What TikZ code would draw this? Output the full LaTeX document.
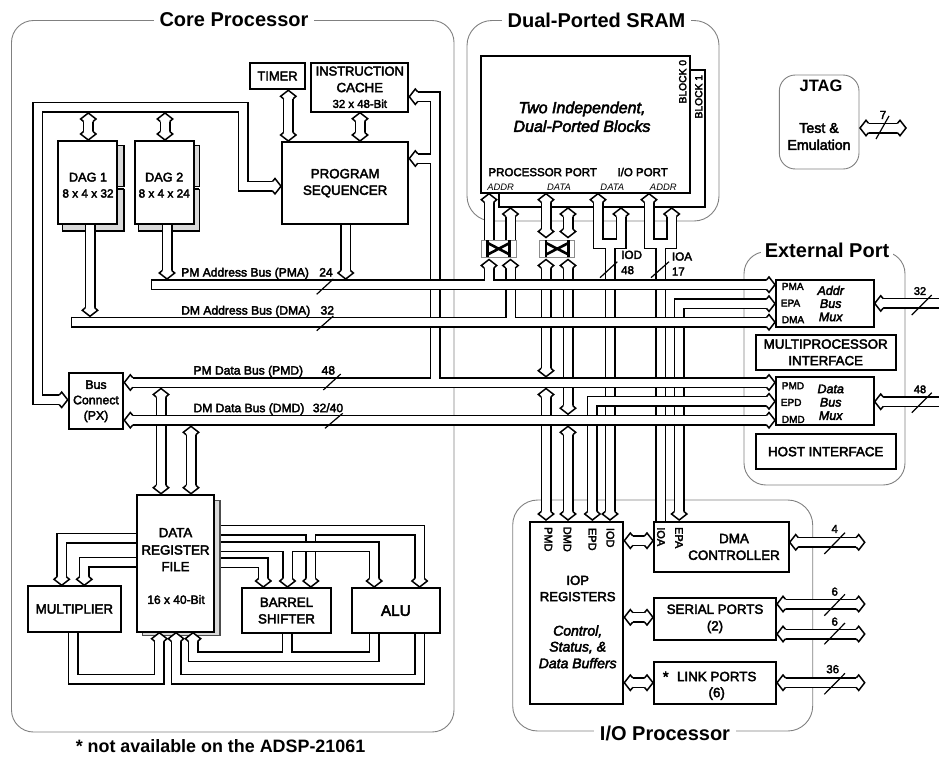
\documentclass[tikz,border=0pt]{standalone}
\usepackage{fontspec}
\setmainfont{Liberation Sans}[FakeBold=3,BoldFeatures={FakeBold=0},ItalicFeatures={FakeBold=3}]
\newfontfamily\plainf{Liberation Sans}
\usetikzlibrary{calc}
\pgfdeclarelayer{back}
\pgfdeclarelayer{front}
\pgfsetlayers{back,main,front}
\pgfdeclarearrow{
  name=BH,
  setup code={
    \pgfarrowssettipend{0pt}
    \pgfarrowssetlineend{-9pt}
    \pgfarrowssetvisualbackend{-9pt}
    \pgfarrowssetbackend{-9.5pt}
  },
  drawing code={
    \pgfsetdash{}{0pt}\pgfsetlinewidth{1.5pt}\pgfsetmiterjoin\pgfsetbuttcap
    \pgfsetfillcolor{white}
    \pgfpathmoveto{\pgfqpoint{-9.5pt}{4.75pt}}
    \pgfpathlineto{\pgfqpoint{-7pt}{7.7pt}}
    \pgfpathlineto{\pgfqpoint{-1pt}{0pt}}
    \pgfpathlineto{\pgfqpoint{-7pt}{-7.7pt}}
    \pgfpathlineto{\pgfqpoint{-9.5pt}{-4.75pt}}
    \pgfusepathqfill
    \pgfpathmoveto{\pgfqpoint{-9.5pt}{4.75pt}}
    \pgfpathlineto{\pgfqpoint{-7pt}{7.7pt}}
    \pgfpathlineto{\pgfqpoint{-1pt}{0pt}}
    \pgfpathlineto{\pgfqpoint{-7pt}{-7.7pt}}
    \pgfpathlineto{\pgfqpoint{-9.5pt}{-4.75pt}}
    \pgfusepathqstroke
  }
}
\tikzset{
  ftx/.style 2 args={font=\fontsize{#1pt}{#2pt}\selectfont},
  bus/.style={draw=black,line width=1.5pt,double=white,double distance=8pt},
  box/.style={draw=black,fill=white,line width=2pt,inner sep=0pt,outer sep=0pt,align=center,ftx={13.3}{16.6}},
  frame/.style={draw=black!50,fill=none,line width=.9pt,rounded corners=22pt,inner sep=0pt,outer sep=0pt},
  title/.style={fill=white,inner xsep=6pt,inner ysep=1pt,font=\fontsize{20}{24}\selectfont\bfseries},
  lab/.style={inner sep=0pt,anchor=mid,yshift=-1.2pt},
  labw/.style={inner sep=0pt,anchor=mid west,yshift=-1.2pt},
  rot/.style={inner sep=0pt,anchor=center},
  tick/.style={draw=black,line width=1.2pt},
  shade/.style={draw=black,fill=black!15,line width=1.5pt},
  xgray/.style={draw=black!45,fill=white,line width=.8pt,inner sep=0pt,outer sep=0pt},
  xbar/.style={draw=black,line width=2.6pt},
}
\newcommand{\bx}[7][]{%
  \pgfmathsetmacro\cxx{(#3+#5)/2}\pgfmathsetmacro\cyy{(#4+#6)/2}%
  \pgfmathsetmacro\wwx{abs(#5-#3)}\pgfmathsetmacro\hhx{abs(#6-#4)}%
  \node[box,minimum width=\wwx pt,minimum height=\hhx pt,#1] (#2) at (\cxx,\cyy) {#7};}
\newcommand{\tj}[2]{\draw[line width=8pt,white] #1 -- #2;}
\begin{document}
\begin{tikzpicture}[x=1pt,y=-1pt]
\useasboundingbox (0,0) rectangle (939,756);

% ---- frames and titles
\begin{pgfonlayer}{back}
\bx[frame]{fcore}{11.5}{20.5}{454}{732}{}
\bx[frame,rounded corners=25pt]{fsram}{467}{20.5}{719}{221}{}
\bx[frame,rounded corners=16pt]{fjtag}{779.3}{75}{859}{169}{}
\bx[frame]{fext}{744}{251.7}{905}{485}{}
\bx[frame,rounded corners=25pt]{fio}{512.7}{500}{812.7}{731}{}
\node[title] (tcore) at (234,20) {Core Processor};
\node[title] (tsram) at (596.5,20) {Dual-Ported SRAM};
\node[title,inner xsep=4pt] (text) at (827,250) {External Port};
\node[title] (tio) at (665,733) {I/O Processor};
\node[inner sep=0pt,font=\fontsize{17.9}{20}\selectfont\bfseries] (fnote) at (220.5,746.5) {* not available on the ADSP-21061};
\end{pgfonlayer}

% ---- blocks (on the front layer)
\begin{pgfonlayer}{front}
\bx[ftx={12.9}{15}]{timer}{249.7}{62.7}{305.3}{89.3}{TIMER}
\bx{cache}{311.3}{62.7}{408.3}{111.7}{}
\bx{seq}{282}{142}{408.3}{224.3}{PROGRAM\\SEQUENCER}
\bx{dag1}{58}{141}{117.3}{224.3}{}
\bx{dag2}{134.7}{141}{193.7}{224.3}{}
\bx[ftx={12.3}{15.4}]{px}{68.7}{373.3}{123.3}{429.3}{Bus\\Connect\\(PX)}
\bx{drf}{136.7}{494.7}{214}{631.7}{}
\bx{mult}{28}{586.3}{120.7}{631.7}{MULTIPLIER}
\bx{shift}{242}{588}{331}{633.3}{BARREL\\SHIFTER}
\bx[ftx={15.3}{18}]{alu}{352}{588}{439.7}{633.3}{ALU}
\bx{blk0}{480.7}{56}{689.7}{192.7}{}
\bx{amux}{776}{280}{873.7}{327}{}
\bx{mpi}{755.7}{335}{895.7}{369.7}{MULTIPROCESSOR\\INTERFACE}
\bx{dmux}{776}{377.3}{873.7}{425}{}
\bx{host}{755.7}{434.3}{895.7}{469}{HOST INTERFACE}
\bx{iop}{530}{521.7}{623.3}{703.7}{}
\bx{dmac}{654}{521.7}{788.7}{572}{}
\bx{serial}{654}{598}{776}{639.7}{SERIAL PORTS\\(2)}
\bx{link}{654}{662.3}{776}{703.7}{}
\bx[xgray]{xa}{481}{240}{516.7}{257.3}{}
\bx[xgray]{xb}{539.3}{240}{574.3}{257.3}{}
\draw[xbar] (487.7,240) -- (487.7,257.3) (509.7,240) -- (509.7,257.3);
\draw[xbar] (487.7,243) -- (509.7,254.5) (487.7,254.5) -- (509.7,243);
\draw[xbar] (546,240) -- (546,257.3) (568.5,240) -- (568.5,257.3);
\draw[xbar] (546,243) -- (568.5,254.5) (546,254.5) -- (568.5,243);
% labels
\node[lab,ftx={12.9}{15}] (l1) at (359.8,71.7) {INSTRUCTION};
\node[lab,ftx={13.3}{15}] (l2) at (359.8,88.3) {CACHE};
\node[lab,ftx={11.4}{14}] (l3) at (359.8,104) {32 x 48-Bit};
\node[lab,ftx={12.7}{15}] (l4) at (88,177.7) {DAG 1};
\node[lab,ftx={11.8}{15}] (l5) at (88,193.7) {8 x 4 x 32};
\node[lab,ftx={12.7}{15}] (l6) at (164.2,177.7) {DAG 2};
\node[lab,ftx={11.8}{15}] (l7) at (164.2,193.7) {8 x 4 x 24};
\node[lab,ftx={13.3}{15}] (l8) at (175.5,533.3) {DATA};
\node[lab,ftx={13.3}{15}] (l9) at (175.5,550.7) {REGISTER};
\node[lab,ftx={13.3}{15}] (l10) at (175.5,567.3) {FILE};
\node[lab,ftx={12}{15}] (l11) at (176,600) {16 x 40-Bit};
\node[labw,ftx={12.1}{15}] (l12) at (181,272.7) {PM Address Bus (PMA)};
\node[lab,ftx={12.1}{15}] (l13) at (326,272.7) {24};
\node[labw,ftx={12.1}{15}] (l14) at (181,310.7) {DM Address Bus (DMA)};
\node[lab,ftx={12.1}{15}] (l15) at (327.3,310.7) {32};
\node[labw,ftx={12.1}{15}] (l16) at (193.3,370.7) {PM Data Bus (PMD)};
\node[lab,ftx={12.1}{15}] (l17) at (328.3,370.7) {48};
\node[labw,ftx={12.1}{15}] (l18) at (193.3,408.3) {DM Data Bus (DMD)};
\node[lab,ftx={12.1}{15}] (l19) at (328,408.3) {32/40};
\node[rot,rotate=90,ftx={10.3}{12}] (b0) at (682.7,81.7) {BLOCK 0};
\node[rot,rotate=90,ftx={10.3}{12}] (b1) at (698.7,96.7) {BLOCK 1};
\node[lab,ftx={16}{18}] (s1) at (582,109.3) {\itshape Two Independent,};
\node[lab,ftx={16}{18}] (s2) at (582,128) {\itshape Dual-Ported Blocks};
\node[labw,ftx={11.5}{14}] (s3) at (488.3,172.3) {PROCESSOR PORT};
\node[labw,ftx={11.5}{14}] (s4) at (617.3,172.3) {I/O PORT};
\node[lab,font=\plainf\fontsize{9.4}{11}\selectfont\itshape] (s5) at (500.7,186.7) {ADDR};
\node[lab,font=\plainf\fontsize{9.4}{11}\selectfont\itshape] (s6) at (559,186.7) {DATA};
\node[lab,font=\plainf\fontsize{9.4}{11}\selectfont\itshape] (s7) at (612.3,186.7) {DATA};
\node[lab,font=\plainf\fontsize{9.4}{11}\selectfont\itshape] (s8) at (663.3,186.7) {ADDR};
\node[lab,font=\fontsize{16.5}{18}\selectfont\bfseries] (j1) at (821,88) {JTAG};
\node[lab,ftx={14.2}{16}] (j2) at (819,129) {Test \&};
\node[lab,ftx={14.2}{16}] (j3) at (819,146) {Emulation};
\node[lab,ftx={11.5}{14}] (j4) at (883,115) {7};
\node[labw,ftx={11.7}{14}] (i1) at (621,255) {IOD};
\node[labw,ftx={11.5}{14}] (i2) at (621,270.3) {48};
\node[labw,ftx={11.7}{14}] (i3) at (671.7,256.7) {IOA};
\node[labw,ftx={11.5}{14}] (i4) at (671.7,271.7) {17};
\node[labw,ftx={10}{12}] (m1) at (781.7,286) {PMA};
\node[labw,ftx={10}{12}] (m2) at (780.7,302.7) {EPA};
\node[labw,ftx={10}{12}] (m3) at (781.7,319.3) {DMA};
\node[lab,ftx={12.5}{14}] (m4) at (830.7,291) {\itshape Addr};
\node[lab,ftx={12.5}{14}] (m5) at (830.7,304) {\itshape Bus};
\node[lab,ftx={12.5}{14}] (m6) at (830.7,317.3) {\itshape Mux};
\node[labw,ftx={10}{12}] (n1) at (781.7,385.3) {PMD};
\node[labw,ftx={10}{12}] (n2) at (780.7,402) {EPD};
\node[labw,ftx={10}{12}] (n3) at (781.7,419) {DMD};
\node[lab,ftx={12.5}{14}] (n4) at (830.7,389.3) {\itshape Data};
\node[lab,ftx={12.5}{14}] (n5) at (830.7,402.7) {\itshape Bus};
\node[lab,ftx={12.5}{14}] (n6) at (830.7,416) {\itshape Mux};
\node[lab,ftx={11}{13}] (e1) at (920,291) {32};
\node[lab,ftx={11}{13}] (e2) at (920,389.3) {48};
\node[rot,rotate=-90,ftx={11}{13}] (p1) at (548.3,539.3) {PMD};
\node[rot,rotate=-90,ftx={11}{13}] (p2) at (567.3,539.3) {DMD};
\node[rot,rotate=-90,ftx={11}{13}] (p3) at (592.3,539.3) {EPD};
\node[rot,rotate=-90,ftx={11}{13}] (p4) at (610.3,537.7) {IOD};
\node[rot,rotate=-90,ftx={11}{13}] (p5) at (661,536.7) {IOA};
\node[rot,rotate=-90,ftx={11}{13}] (p6) at (679,537.7) {EPA};
\node[lab,ftx={13.1}{15}] (q1) at (577.7,581) {IOP};
\node[lab,ftx={13.1}{15}] (q2) at (577.7,597.3) {REGISTERS};
\node[lab,ftx={14}{16}] (q3) at (577.7,631.7) {\itshape Control,};
\node[lab,ftx={14}{16}] (q4) at (577.7,647.7) {\itshape Status, \&};
\node[lab,ftx={14}{16}] (q5) at (577.7,664.3) {\itshape Data Buffers};
\node[lab,ftx={13.4}{15}] (d1) at (734,539.3) {DMA};
\node[lab,ftx={13.4}{15}] (d2) at (734,556) {CONTROLLER};
\node[lab,ftx={15}{15}] (k0) at (665.7,678) {*};
\node[lab,ftx={13.4}{15}] (k1) at (716.7,677.3) {LINK PORTS};
\node[lab,ftx={13.4}{15}] (k2) at (716.7,693.3) {(6)};
\node[lab,ftx={11.5}{14}] (o1) at (834.7,529) {4};
\node[lab,ftx={11.5}{14}] (o2) at (834.7,591.7) {6};
\node[lab,ftx={11.5}{14}] (o3) at (834.7,621.7) {6};
\node[lab,ftx={11.5}{14}] (o4) at (832.7,669.3) {36};
% bus width ticks
\draw[tick] (316.7,294.3) -- (333.3,279);
\draw[tick] (316.7,330.7) -- (333.3,316);
\draw[tick] (323.3,390) -- (340.7,374);
\draw[tick] (325,428.3) -- (342.7,413.3);
\draw[tick] (600,277.7) -- (617.3,261.7);
\draw[tick] (651,277.7) -- (669,261.7);
\draw[tick] (911.7,315) -- (931.7,295);
\draw[tick] (911.7,412.7) -- (931.7,392.7);
\draw[tick] (876,139) -- (889,116);
\draw[tick] (824.3,554) -- (845,532.7);
\draw[tick] (824.3,615.7) -- (845,594.3);
\draw[tick] (824.3,644.3) -- (845,623);
\draw[tick] (824.3,694.3) -- (845,673.3);
\end{pgfonlayer}

% ---- named routing tracks
\coordinate (xdag1) at (88.3,0);  \coordinate (xdag2) at (165,0);
\coordinate (xtim) at (288.3,0);  \coordinate (xcac) at (360,0);
\coordinate (xdag1d) at (90,0);   \coordinate (xdag2d) at (167,0);
\coordinate (xseq) at (345.7,0);  \coordinate (xpx) at (37.7,0);
\coordinate (xrt) at (243,0);     \coordinate (xbr) at (435,0);
\coordinate (xr1) at (161,0);     \coordinate (xr2) at (191,0);
\coordinate (xA) at (489,0);      \coordinate (xB) at (510.5,0);
\coordinate (xC) at (546,0);      \coordinate (xD) at (568,0);
\coordinate (xp1) at (598,0);     \coordinate (xp2) at (621,0);
\coordinate (xiod) at (610,0);    \coordinate (xq1) at (649,0);
\coordinate (xq2) at (671.7,0);   \coordinate (xioa) at (660.8,0);
\coordinate (xepa) at (679.2,0);  \coordinate (xepd) at (592.4,0);
\coordinate (ypma) at (0,284.7);  \coordinate (ydma) at (0,322.2);
\coordinate (ypmd) at (0,382.5);  \coordinate (ydmd) at (0,420.2);
\coordinate (yepa) at (0,303.7);  \coordinate (yepd) at (0,401.3);
\coordinate (yu) at (0,243.5);    \coordinate (ytop) at (0,193);
\coordinate (ytop2) at (0,207);   \coordinate (yxt) at (0,238.5);
\coordinate (yxb) at (0,258.5);   \coordinate (yio) at (0,521);
\coordinate (ysc) at (0,158.5);   \coordinate (yca) at (0,96.7);
\coordinate (ypx) at (0,399.8);   \coordinate (yrt) at (0,107.3);
\coordinate (ysq) at (0,186.2);   \coordinate (ya) at (0,530.3);
\coordinate (yb) at (0,546.7);    \coordinate (yc) at (0,562.8);
\coordinate (xa1) at (419.6,0);   \coordinate (xa2) at (310.8,0);
\coordinate (xb1) at (374.2,0);   \coordinate (xb2) at (287.5,0);
\coordinate (xc1) at (263.3,0);   \coordinate (yr0) at (0,633);
\coordinate (xdrs) at (220.5,0);
% ends of buses that stop on the edge of another bus
\coordinate (yrtb) at (0,112);    \coordinate (ydmat) at (0,317.3);
\coordinate (ypmat) at (0,280);   \coordinate (ypmdt) at (0,377.7);
\coordinate (ypmdb) at (0,387.5); \coordinate (ydmdt) at (0,415.2);
\coordinate (ydmdb) at (0,425.3);

% ---- shadows that lie under the buses
\draw[shade] (124,145.3) -- (124,231) -- (62.3,231) -- (62.3,224) -- (117,224) -- (117,145.3) -- cycle;
\draw[shade] (199.3,145.3) -- (199.3,231) -- (138.3,231) -- (138.3,224) -- (193,224) -- (193,145.3) -- cycle;
\draw[white,line width=1.6pt] (118,187.7) -- (125,187.7) (194,187.7) -- (200.3,187.7);
\draw[black,line width=1.1pt] (118,186.9) -- (124,186.9) (118,189) -- (124,189) (194,186.9) -- (199.3,186.9) (194,189) -- (199.3,189);
\draw[draw=black,fill=white,line width=2pt] (689,70) -- (705,70) -- (705,206.7) -- (499.3,206.7) -- (499.3,192);

% ---- DAG, timer, cache
\draw[bus,BH-BH] (xdag1 |- yrtb) -- (xdag1 |- dag1.north);
\draw[bus,BH-BH] (xdag2 |- yrtb) -- (xdag2 |- dag2.north);
\draw[bus,BH-BH] (xtim |- timer.south) -- (xtim |- seq.north);
\draw[bus,BH-BH] (xcac |- cache.south) -- (xcac |- seq.north);
\draw[bus,-BH] (xdag1d |- dag1.south) -- (xdag1d |- ydmat);
\draw[bus,-BH] (xdag2d |- dag2.south) -- (xdag2d |- ypmat);
\draw[bus,-BH] (xseq |- seq.south) -- (xseq |- ypmat);
% the PX / sequencer link
\draw[bus,BH-BH] (seq.west |- ysq) -- (xrt |- ysq) -- (xrt |- yrt) -- (xpx |- yrt) -- (xpx |- ypx) -- (px.west |- ypx);

% ---- verticals under the horizontal buses
\draw[bus,BH-BH] (xC |- yxb) -- (xC |- ypmdt);
\draw[bus,BH-BH] (xD |- yxb) -- (xD |- ydmdt);
\draw[bus,BH-] (xA |- blk0.south) -- (xA |- xa.north);
\draw[bus,BH-] (xB |- ytop2) -- (xB |- xa.north);
\draw[bus,BH-BH] (xC |- blk0.south) -- (xC |- yxt);
\draw[bus,BH-BH] (xD |- ytop2) -- (xD |- yxt);
\draw[bus,BH-BH] (xC |- ypmdb) -- (xC |- yio);
\draw[bus,BH-BH] (xD |- ydmdb) -- (xD |- yio);
% IOD
\draw[bus,-BH] (xiod |- yu) -- (xiod |- yio);
\draw[bus,BH-BH] (xp1 |- blk0.south) -- (xp1 |- yu) -- (xp2 |- yu) -- (xp2 |- ytop2);
\tj{(xiod |- yu)}{($(xiod |- yu)+(0,7)$)}
% IOA
\draw[bus] (xioa |- yu) -- (xioa |- dmac.north);
\draw[bus,BH-BH] (xq1 |- blk0.south) -- (xq1 |- yu) -- (xq2 |- yu) -- (xq2 |- ytop2);
\tj{(xioa |- yu)}{($(xioa |- yu)+(0,7)$)}
% EPA, EPD
\draw[bus,BH-BH] (xepa |- yio) -- (xepa |- yepa) -- (amux.west |- yepa);
\draw[bus,BH-BH] (xepd |- yio) -- (xepd |- yepd) -- (dmux.west |- yepd);

% ---- PM data bus and its branches
\draw[bus,BH-] (seq.east |- ysc) -- (xbr |- ysc);
\draw[bus,BH-] (cache.east |- yca) -- (xbr |- yca) -- (xbr |- ypmd);
\tj{(xbr |- ysc)}{($(xbr |- ysc)+(-7,0)$)}
\draw[bus,BH-BH] (px.east |- ypmd) -- (dmux.west |- ypmd);
\tj{(xbr |- ypmd)}{($(xbr |- ypmd)+(0,-7)$)}
% register file links run under the DM data bus
\draw[bus,BH-BH] (xr1 |- ypmdb) -- (xr1 |- drf.north);
\draw[bus,BH-BH] (xr2 |- ydmdb) -- (xr2 |- drf.north);
\draw[bus,BH-BH] (px.east |- ydmd) -- (dmux.west |- ydmd);

% ---- address buses
\coordinate (dmaL) at (71.7,322.2);
\draw[bus,BH-] (xB |- yxb) -- (xB |- ydma);
\draw[bus,-BH] (dmaL) -- (amux.west |- ydma);
\draw[line width=1.5pt] ($(dmaL)+(0,-5.5)$) -- ($(dmaL)+(0,5.5)$);
\tj{(xB |- ydma)}{($(xB |- ydma)+(0,-7)$)}
\coordinate (pmaL) at (151.3,284.7);
\draw[bus,BH-] (xA |- yxb) -- (xA |- ypma);
\draw[bus,-BH] (pmaL) -- (amux.west |- ypma);
\draw[line width=1.5pt] ($(pmaL)+(0,-5.5)$) -- ($(pmaL)+(0,5.5)$);
\tj{(xA |- ypma)}{($(xA |- ypma)+(0,-7)$)}

% ---- off-chip links
\coordinate (edgeA) at (939,303.4);
\coordinate (edgeD) at (939,401.7);
\draw[bus,BH-] (amux.east |- edgeA) -- (edgeA);
\draw[bus,BH-] (dmux.east |- edgeD) -- (edgeD);
\coordinate (jend) at (907,128);
\draw[bus,BH-BH] (fjtag.east |- jend) -- (jend);
\coordinate (o1e) at (865.7,542.3);
\coordinate (o2e) at (865.7,604);
\coordinate (o3e) at (865.7,634);
\coordinate (o4e) at (865.7,682.7);
\draw[bus,BH-BH] (dmac.east |- o1e) -- (o1e);
\draw[bus,BH-BH] (serial.east |- o2e) -- (o2e);
\draw[bus,BH-BH] (serial.east |- o3e) -- (o3e);
\draw[bus,BH-BH] (link.east |- o4e) -- (o4e);
\coordinate (i1y) at (0,540.7);
\coordinate (i2y) at (0,617.3);
\coordinate (i3y) at (0,682.7);
\draw[bus,BH-BH] (iop.east |- i1y) -- (dmac.west |- i1y);
\draw[bus,BH-BH] (iop.east |- i2y) -- (serial.west |- i2y);
\draw[bus,BH-BH] (iop.east |- i3y) -- (link.west |- i3y);

% ---- register file to the units
\coordinate (yr1) at (0,538.3);
\coordinate (yr2) at (0,562.3);
\coordinate (xm1) at (61.7,0);
\coordinate (xm2) at (84.3,0);
\draw[bus,-BH] (drf.west |- yr1) -- (xm1 |- yr1) -- (xm1 |- mult.north);
\draw[bus,-BH] (drf.west |- yr2) -- (xm2 |- yr2) -- (xm2 |- mult.north);
\draw[bus,-BH] (xa2 |- ya) -- (xa2 |- shift.north);
\draw[bus,-BH] (xdrs |- ya) -- (xa1 |- ya) -- (xa1 |- alu.north);
\tj{(xa2 |- ya)}{($(xa2 |- ya)+(0,7)$)}
\draw[bus,-BH] (xb2 |- yb) -- (xb2 |- shift.north);
\draw[bus,-BH] (xdrs |- yb) -- (xb1 |- yb) -- (xb1 |- alu.north);
\tj{(xb2 |- yb)}{($(xb2 |- yb)+(0,7)$)}
\draw[bus,-BH] (xdrs |- yc) -- (xc1 |- yc) -- (xc1 |- shift.north);

% register file shadow
\draw[draw=black!70,fill=black!15,line width=1.3pt] (214,500.7) -- (220,500.7) -- (220,635.7) -- (142.7,635.7) -- (142.7,631) -- (214,631) -- cycle;

% ---- results back into the register file
\coordinate (xo1) at (73,0);
\coordinate (yo1) at (0,679);
\coordinate (xd1) at (159.3,0);
\coordinate (xd2) at (176,0);
\coordinate (xd3) at (193,0);
\coordinate (yo2) at (0,656.7);
\coordinate (xo3) at (374.3,0);
\coordinate (xo4) at (419.8,0);
\coordinate (xo5) at (287,0);
\draw[bus,-BH] (xo1 |- mult.south) -- (xo1 |- yo1) -- (xd1 |- yo1) -- (xd1 |- drf.south);
\draw[bus,-BH] (xo4 |- alu.south) -- (xo4 |- yo1) -- (xd2 |- yo1) -- (xd2 |- drf.south);
\draw[bus] (xo5 |- shift.south) -- (xo5 |- yo2);
\draw[bus,-BH] (xo3 |- alu.south) -- (xo3 |- yo2) -- (xd3 |- yo2) -- (xd3 |- drf.south);
\tj{(xo5 |- yo2)}{($(xo5 |- yo2)+(0,-7)$)}
\end{tikzpicture}
\end{document}
